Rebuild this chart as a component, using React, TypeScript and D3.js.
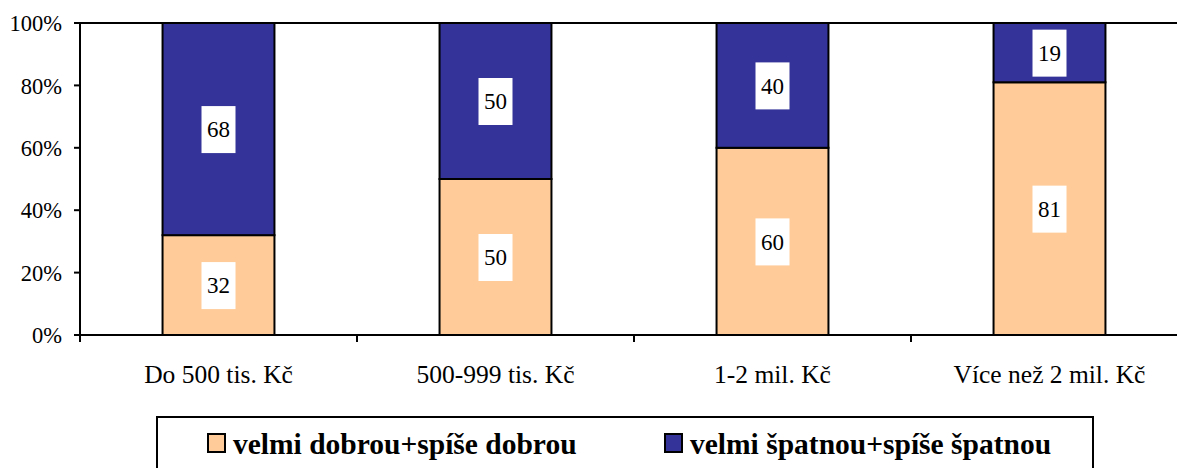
import { useRef, useEffect } from "react";
import * as d3 from "d3";

const categories = ["Do 500 tis. Kč", "500-999 tis. Kč", "1-2 mil. Kč", "Více než 2 mil. Kč"];
const goodValues = [32, 50, 60, 81];
const badValues = [68, 50, 40, 19];
const seriesNames = ["velmi dobrou+spíše dobrou", "velmi špatnou+spíše špatnou"];
const seriesColors = ["#FFCC99", "#333399"];
const yTicks = [0, 20, 40, 60, 80, 100];

const App = () => {
  const svgRef = useRef<SVGSVGElement>(null);

  useEffect(() => {
    const width = 1177;
    const height = 468;
    const left = 80;
    const top = 23;
    const bottom = 335;
    const step = 277;
    const font = "Liberation Serif, DejaVu Serif, Times New Roman, serif";

    const svg = d3.select(svgRef.current).attr("width", width).attr("height", height)
      .style("font-family", font);
    svg.selectAll("*").remove();

    const x = d3
      .scaleBand()
      .domain(categories)
      .range([left, left + step * categories.length])
      .paddingInner(0.596)
      .paddingOuter(0.298);
    const y = d3.scaleLinear().domain([0, 100]).range([bottom, top]);

    const stacked = categories.map((c, i) => ({
      cat: c,
      segs: [
        { y0: 0, y1: goodValues[i], v: goodValues[i], color: seriesColors[0] },
        { y0: goodValues[i], y1: goodValues[i] + badValues[i], v: badValues[i], color: seriesColors[1] },
      ],
    }));

    // plot area top border
    svg.append("line").attr("x1", left).attr("x2", width).attr("y1", top).attr("y2", top)
      .attr("stroke", "#000").attr("stroke-width", 2);

    const g = svg.append("g");
    stacked.forEach((d) => {
      d.segs.forEach((s) => {
        g.append("rect")
          .attr("x", x(d.cat)!)
          .attr("y", y(s.y1))
          .attr("width", x.bandwidth())
          .attr("height", y(s.y0) - y(s.y1))
          .attr("fill", s.color)
          .attr("stroke", "#000")
          .attr("stroke-width", 2);
      });
    });

    // labels
    stacked.forEach((d) => {
      d.segs.forEach((s) => {
        const cx = x(d.cat)! + x.bandwidth() / 2;
        const cy = (y(s.y0) + y(s.y1)) / 2;
        g.append("rect")
          .attr("x", cx - 17)
          .attr("y", cy - 23)
          .attr("width", 34)
          .attr("height", 47)
          .attr("fill", "#fff");
        g.append("text")
          .attr("x", cx)
          .attr("y", cy)
          .attr("dy", "0.36em")
          .attr("text-anchor", "middle")
          .style("font-size", "23px")
          .text(s.v);
      });
    });

    // y axis
    const yAxis = svg.append("g").attr("transform", `translate(${left},0)`);
    yAxis.append("line").attr("x1", 0).attr("x2", 0).attr("y1", top).attr("y2", bottom)
      .attr("stroke", "#000").attr("stroke-width", 2);
    yTicks.forEach((t) => {
      yAxis.append("line").attr("x1", -6).attr("x2", 0).attr("y1", y(t)).attr("y2", y(t))
        .attr("stroke", "#000").attr("stroke-width", 2);
      yAxis.append("text")
        .attr("x", -18)
        .attr("y", y(t))
        .attr("dy", "0.36em")
        .attr("text-anchor", "end")
        .style("font-size", "22.5px")
        .text(`${t}%`);
    });

    // x axis
    const xAxis = svg.append("g").attr("transform", `translate(0,${bottom})`);
    xAxis.append("line").attr("x1", left - 6).attr("x2", width).attr("y1", 0).attr("y2", 0)
      .attr("stroke", "#000").attr("stroke-width", 2);
    d3.range(categories.length + 1).forEach((i) => {
      const tx = left + i * step;
      xAxis.append("line").attr("x1", tx).attr("x2", tx).attr("y1", 0).attr("y2", 7)
        .attr("stroke", "#000").attr("stroke-width", 2);
    });
    categories.forEach((c) => {
      xAxis.append("text")
        .attr("x", x(c)! + x.bandwidth() / 2)
        .attr("y", 48)
        .attr("text-anchor", "middle")
        .style("font-size", "25.5px")
        .text(c);
    });

    // legend
    const legend = svg.append("g");
    legend.append("rect")
      .attr("x", 157).attr("y", 417).attr("width", 936).attr("height", 60)
      .attr("fill", "#fff").attr("stroke", "#000").attr("stroke-width", 2);
    const legendX = [208, 665];
    seriesNames.forEach((name, i) => {
      legend.append("rect")
        .attr("x", legendX[i]).attr("y", 434).attr("width", 17).attr("height", 18)
        .attr("fill", seriesColors[i]).attr("stroke", "#000").attr("stroke-width", 2);
      legend.append("text")
        .attr("x", legendX[i] + 25)
        .attr("y", 454)
        .style("font-weight", "bold")
        .style("font-size", "29.5px")
        .text(name);
    });
  }, []);

  return <svg ref={svgRef} style={{ position: "absolute", left: 0, top: 0 }} />;
};

export default App;
